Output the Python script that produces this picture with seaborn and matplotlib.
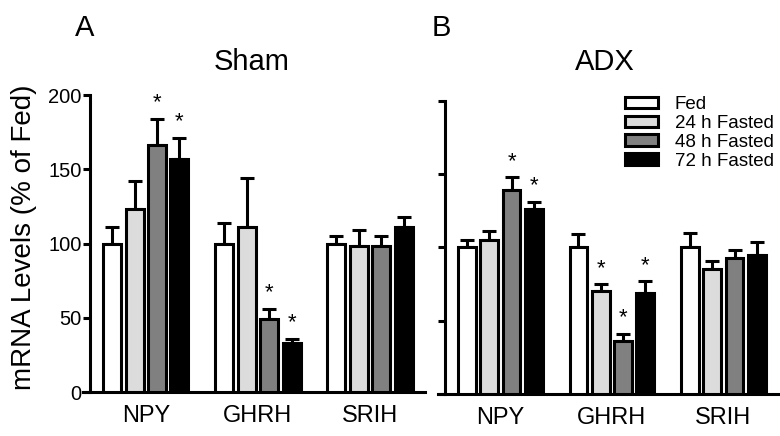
import numpy as np
import pandas as pd
import matplotlib
matplotlib.use('Agg')
import matplotlib.pyplot as plt
import seaborn as sns

genes = ['NPY', 'GHRH', 'SRIH']
groups = ['Fed', '24 h Fasted', '48 h Fasted', '72 h Fasted']
colors = ['#ffffff', '#dcdcdc', '#808080', '#000000']

# mean values per gene, one list per group (% of Fed)
sham_mean = {'Fed': [100, 100, 100],
             '24 h Fasted': [123, 111, 98],
             '48 h Fasted': [166, 49, 98],
             '72 h Fasted': [157, 33, 111]}
sham_err = {'Fed': [11, 14, 5],
            '24 h Fasted': [19, 33, 11],
            '48 h Fasted': [18, 7, 7],
            '72 h Fasted': [14, 3, 7]}
sham_sig = [('NPY', '48 h Fasted'), ('NPY', '72 h Fasted'),
            ('GHRH', '48 h Fasted'), ('GHRH', '72 h Fasted')]

adx_mean = {'Fed': [100, 100, 100],
            '24 h Fasted': [105, 70, 85],
            '48 h Fasted': [139, 36, 93],
            '72 h Fasted': [126, 69, 95]}
adx_err = {'Fed': [5, 9, 10],
           '24 h Fasted': [6, 5, 6],
           '48 h Fasted': [9, 5, 5],
           '72 h Fasted': [5, 8, 9]}
adx_sig = [('NPY', '48 h Fasted'), ('NPY', '72 h Fasted'),
           ('GHRH', '24 h Fasted'), ('GHRH', '48 h Fasted'), ('GHRH', '72 h Fasted')]

plt.rcParams['font.family'] = ['Liberation Sans', 'DejaVu Sans']
plt.rcParams['axes.linewidth'] = 2.2

W, H = 780, 436
fig = plt.figure(figsize=(W / 100, H / 100), dpi=100)
# pixel boxes -> figure fractions
axA = fig.add_axes([83 / W, 1 - 392 / H, 342 / W, 297 / H])
axB = fig.add_axes([438 / W, 1 - 394 / H, 340 / W, 293 / H])


def draw_panel(ax, means, errs, sig):
    rows = []
    for g in groups:
        for i, gene in enumerate(genes):
            rows.append({'gene': gene, 'group': g, 'value': means[g][i]})
    df = pd.DataFrame(rows)
    sns.barplot(data=df, x='gene', y='value', hue='group', order=genes, hue_order=groups,
                palette=colors, edgecolor='black', linewidth=2.2, width=0.8, gap=0.2,
                errorbar=None, legend=False, ax=ax, zorder=3)
    # patches come hue-major
    k = 0
    for g in groups:
        for i, gene in enumerate(genes):
            p = ax.patches[k]
            k += 1
            xc = p.get_x() + p.get_width() / 2
            top = means[g][i]
            e = errs[g][i]
            ax.errorbar(xc, top, yerr=[[0], [e]], fmt='none', ecolor='black',
                        elinewidth=2.2, capsize=5, capthick=2.2, zorder=2)
            if (gene, g) in sig:
                ax.annotate('*', (xc, top + e), xytext=(0, 7.5), textcoords='offset points',
                            ha='center', va='baseline', fontsize=16)
    ax.set_ylim(0, 200)
    ax.set_yticks([0, 50, 100, 150, 200])
    ax.set_xlim(-0.56, 2.49)
    ax.set_xlabel('')
    ax.set_ylabel('')
    ax.spines['top'].set_visible(False)
    ax.spines['right'].set_visible(False)
    ax.spines['left'].set_position(('axes', 0.02))
    ax.tick_params(axis='x', length=0, labelsize=17, pad=9)
    ax.tick_params(axis='y', length=5, width=2.2, labelsize=14.5, pad=1)


draw_panel(axA, sham_mean, sham_err, sham_sig)
axA.set_ylabel('mRNA Levels (% of Fed)', fontsize=20)
axA.yaxis.set_label_coords(-0.135, 0.52)

draw_panel(axB, adx_mean, adx_err, adx_sig)
axB.set_yticklabels([])

# panel letters and titles
fig.text(75 / W, 1 - 36 / H, 'A', fontsize=21, ha='left', va='baseline')
fig.text(252 / W, 1 - 70 / H, 'Sham', fontsize=21, ha='center', va='baseline')
fig.text(432 / W, 1 - 36 / H, 'B', fontsize=21, ha='left', va='baseline')
fig.text(605 / W, 1 - 70 / H, 'ADX', fontsize=21, ha='center', va='baseline')

handles = [matplotlib.patches.Patch(facecolor=c, edgecolor='black', linewidth=2.2) for c in colors]
fig.legend(handles, groups, loc='upper left', bbox_to_anchor=(625 / W, 1 - 96 / H),
           bbox_transform=fig.transFigure, frameon=False, fontsize=13.5,
           borderpad=0, borderaxespad=0, handlelength=1.76, handleheight=0.55,
           labelspacing=0.1, handletextpad=0.9)

fig.savefig('out.png', dpi=100)
